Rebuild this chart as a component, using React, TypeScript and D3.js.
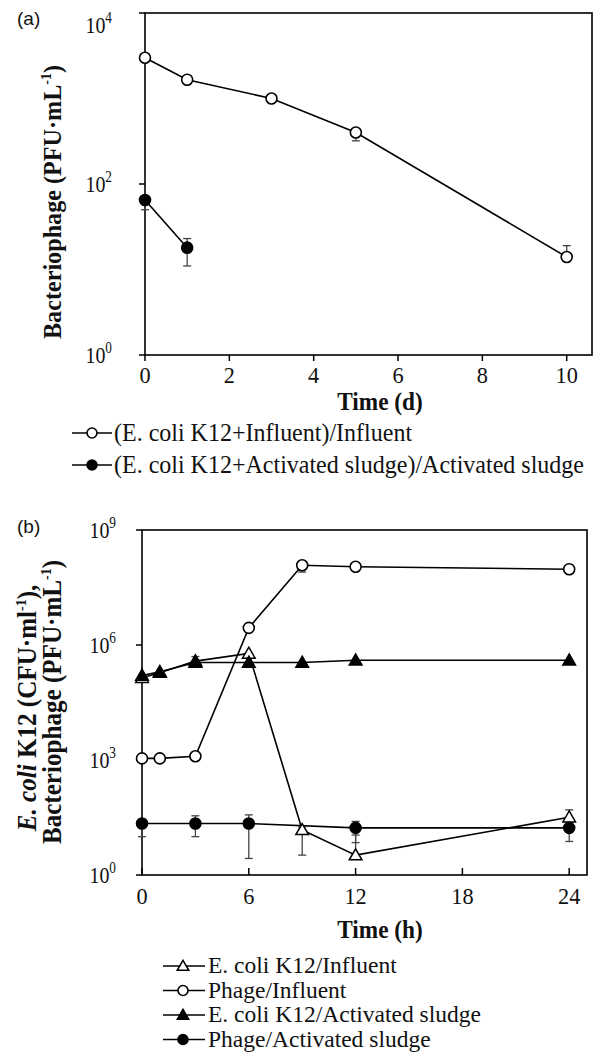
import React, { useEffect, useRef } from 'react';
import * as d3 from 'd3';

const W = 594;
const H = 1053;
const SERIF = '"Liberation Serif", "Times New Roman", serif';
const SANS = '"Liberation Sans", Arial, sans-serif';

// ---- panel (a): phage counts over days ----
const daysInfluent = [0, 1, 3, 5, 10];
const phageInfluentA = [3000, 1660, 1000, 400, 14];
const phageInfluentAErr = [null, null, null, [320, 400], [14, 19]];
const daysSludge = [0, 1];
const phageSludgeA = [65, 18];
const phageSludgeAErr = [[50, 65], [11, 23]];
const xTicksA = [0, 2, 4, 6, 8, 10];
const yTicksA = [1, 100, 10000];
const legendA = ['(E. coli K12+Influent)/Influent', '(E. coli K12+Activated sludge)/Activated sludge'];

// ---- panel (b): E. coli and phage over hours ----
const hours = [0, 1, 3, 6, 9, 12, 24];
const ecoliInfluent = [1.4e5, 1.9e5, 3.8e5, 6e5, 15, 3.3, 32];
const ecoliInfluentErr = [null, null, null, null, [3.3, 18], [3.3, 11], [20, 50]];
const phageInfluent = [1100, 1100, 1250, 2.8e6, 1.2e8, 1.1e8, 9.5e7];
const phageInfluentErr = [null, null, [1250, 1500], null, [8e7, 1.2e8], null, null];
const ecoliSludge = [1.6e5, 2e5, 3.5e5, 3.5e5, 3.5e5, 4e5, 4e5];
const ecoliSludgeErr = [null, null, [3.5e5, 5e5], null, null, null, null];
const hoursPhageSludge = [0, 3, 6, 12, 24];
const phageSludge = [22, 22, 22, 17, 17];
const phageSludgeErr = [[10, 22], [10, 35], [2.7, 37], [7, 25], [7.5, 25]];
const xTicksB = [0, 6, 12, 18, 24];
const yTicksB = [1, 1e3, 1e6, 1e9];
const legendB = ['E. coli K12/Influent', 'Phage/Influent', 'E. coli K12/Activated sludge', 'Phage/Activated sludge'];

// text squeezed horizontally a bit, like the scanned figure
const addText = (parent: any, x: number, y: number, size: number, anchor = 'start', opts: any = {}) => {
  const sx = opts.sx ?? 0.89;
  return parent.append('g')
    .attr('transform', `translate(${x},${y})${opts.rotate ? ` rotate(${opts.rotate})` : ''} scale(${sx},1)`)
    .append('text')
    .attr('text-anchor', anchor)
    .attr('fill', '#111')
    .style('font-family', opts.family || SERIF)
    .style('font-size', size + 'px')
    .style('font-weight', opts.weight || 'normal');
};

const drawMarker = (g: any, kind: string, filled: boolean, cx: number, cy: number, r = 5.5) => {
  if (kind === 'circle') {
    g.append('circle').attr('cx', cx).attr('cy', cy).attr('r', r)
      .attr('fill', filled ? '#000' : '#fff').attr('stroke', '#000').attr('stroke-width', 1.6);
  } else {
    g.append('path')
      .attr('d', d3.symbol().type(d3.symbolTriangle).size(r * r * 2.3)())
      .attr('transform', `translate(${cx},${cy + 1})`)
      .attr('fill', filled ? '#000' : '#fff').attr('stroke', '#000').attr('stroke-width', 1.5);
  }
};

const drawPanel = (svg: any, p: any) => {
  const g = svg.append('g');
  const [x0, x1] = p.x.range();
  const [yb, yt] = p.y.range();

  g.selectAll('line.xt').data(p.xTicks).join('line').attr('class', 'xt')
    .attr('x1', (d: number) => p.x(d)).attr('x2', (d: number) => p.x(d))
    .attr('y1', yb).attr('y2', yb + p.xTickLen)
    .attr('stroke', '#000').attr('stroke-width', 1.5);
  g.selectAll('line.yt').data(p.yTicks).join('line').attr('class', 'yt')
    .attr('x1', x0 - 6).attr('x2', x0)
    .attr('y1', (d: number) => p.y(d)).attr('y2', (d: number) => p.y(d))
    .attr('stroke', '#000').attr('stroke-width', 1.5);
  g.append('rect').attr('x', x0).attr('y', yt).attr('width', x1 - x0).attr('height', yb - yt)
    .attr('fill', 'none').attr('stroke', '#000').attr('stroke-width', 1.6);

  p.xTicks.forEach((d: number) => addText(g, p.x(d), p.xLabelY, 24, 'middle', { sx: 0.93 }).text(d));
  p.yTicks.forEach((d: number, i: number) => {
    const t = addText(g, x0 - p.yLabelGap, p.y(d) + 8 + (p.yLabelShift[i] || 0), 24, 'end', { sx: 0.83 });
    t.append('tspan').text('10');
    t.append('tspan').attr('dy', -10).style('font-size', '16px').text(Math.round(Math.log10(d)));
  });

  const line = d3.line();
  p.series.forEach((s: any) => {
    const pts = s.t.map((t: number, i: number) => [p.x(t), p.y(s.v[i])]);
    g.append('path').attr('d', line(pts)).attr('fill', 'none').attr('stroke', '#000').attr('stroke-width', 1.6);
  });
  p.series.forEach((s: any) => {
    s.err.forEach((e: any, i: number) => {
      if (!e) return;
      const cx = p.x(s.t[i]);
      const eg = g.append('g').attr('stroke', '#444').attr('stroke-width', 1.3);
      eg.append('line').attr('x1', cx).attr('x2', cx).attr('y1', p.y(e[0])).attr('y2', p.y(e[1]));
      e.forEach((v: number) => eg.append('line').attr('x1', cx - 4).attr('x2', cx + 4).attr('y1', p.y(v)).attr('y2', p.y(v)));
    });
  });
  p.series.forEach((s: any) => {
    s.t.forEach((t: number, i: number) => drawMarker(g, s.kind, s.filled, p.x(t), p.y(s.v[i])));
  });
};

const drawYLabel = (svg: any, x: number, cy: number, size: number, sx: number, parts: any[]) => {
  const t = addText(svg, x, cy, size, 'middle', { rotate: -90, sx, weight: 'bold' });
  parts.forEach((pt) => {
    const ts = t.append('tspan').text(pt.text);
    if (pt.italic) ts.style('font-style', 'italic');
    if (pt.sup) ts.attr('dy', -10).style('font-size', '15px');
    if (pt.down) ts.attr('dy', 10);
  });
};

const App = () => {
  const svgRef = useRef<SVGSVGElement>(null);

  useEffect(() => {
    const svg = d3.select(svgRef.current);
    svg.selectAll('*').remove();

    // panel (a)
    const xA = d3.scaleLinear([0, 10.6], [145, 592]);
    const yA = d3.scaleLog([1, 1e4], [355, 13]);
    drawPanel(svg, {
      x: xA, y: yA, xTicks: xTicksA, yTicks: yTicksA, xTickLen: 6, xLabelY: 383,
      yLabelGap: 33, yLabelShift: [0, 0, 12],
      series: [
        { t: daysInfluent, v: phageInfluentA, err: phageInfluentAErr, kind: 'circle', filled: false },
        { t: daysSludge, v: phageSludgeA, err: phageSludgeAErr, kind: 'circle', filled: true },
      ],
    });
    addText(svg, 17, 25, 19, 'start', { family: SANS, sx: 1 }).text('(a)');
    drawYLabel(svg, 61, 202, 26, 0.93, [
      { text: 'Bacteriophage (PFU·mL' }, { text: '-1', sup: true }, { text: ')', down: true },
    ]);
    addText(svg, 380, 410, 25, 'middle', { weight: 'bold', sx: 0.93 }).text('Time (d)');

    const legA = svg.append('g');
    legendA.forEach((name, i) => {
      const y = 433 + i * 32;
      legA.append('line').attr('x1', 72).attr('x2', 112).attr('y1', y).attr('y2', y)
        .attr('stroke', '#000').attr('stroke-width', 1.6);
      drawMarker(legA, 'circle', i === 1, 92, y, 5);
      addText(legA, 114, y + 8, 25, 'start', { sx: 0.96 }).text(name);
    });

    // panel (b)
    const xB = d3.scaleLinear([0, 25], [142, 587]);
    const yB = d3.scaleLog([1, 1e9], [875, 530]);
    drawPanel(svg, {
      x: xB, y: yB, xTicks: xTicksB, yTicks: yTicksB, xTickLen: -7, xLabelY: 904,
      yLabelGap: 26, yLabelShift: [0, 0, 0, 0],
      series: [
        { t: hours, v: ecoliInfluent, err: ecoliInfluentErr, kind: 'triangle', filled: false },
        { t: hours, v: phageInfluent, err: phageInfluentErr, kind: 'circle', filled: false },
        { t: hours, v: ecoliSludge, err: ecoliSludgeErr, kind: 'triangle', filled: true },
        { t: hoursPhageSludge, v: phageSludge, err: phageSludgeErr, kind: 'circle', filled: true },
      ],
    });
    addText(svg, 17, 533, 19, 'start', { family: SANS, sx: 1 }).text('(b)');
    drawYLabel(svg, 36, 708, 27, 0.93, [
      { text: 'E. coli', italic: true }, { text: ' K12 (CFU·ml' }, { text: '-1', sup: true }, { text: '),', down: true },
    ]);
    drawYLabel(svg, 61, 702, 27, 0.93, [
      { text: 'Bacteriophage (PFU·mL' }, { text: '-1', sup: true }, { text: ')', down: true },
    ]);
    addText(svg, 380, 938, 25, 'middle', { weight: 'bold', sx: 0.93 }).text('Time (h)');

    const legB = svg.append('g');
    const legKinds = [['triangle', false], ['circle', false], ['triangle', true], ['circle', true]];
    legendB.forEach((name, i) => {
      const y = 966 + i * 24.5;
      legB.append('line').attr('x1', 163).attr('x2', 205).attr('y1', y).attr('y2', y)
        .attr('stroke', '#000').attr('stroke-width', 1.6);
      drawMarker(legB, legKinds[i][0] as string, legKinds[i][1] as boolean, 183, y, 5);
      addText(legB, 208, y + 7, 24, 'start', { sx: 0.98 }).text(name);
    });
  }, []);

  return (
    <svg ref={svgRef} width={W} height={H} viewBox={`0 0 ${W} ${H}`}
      style={{ position: 'absolute', left: 0, top: 0, background: '#fff' }} />
  );
};

export default App;
